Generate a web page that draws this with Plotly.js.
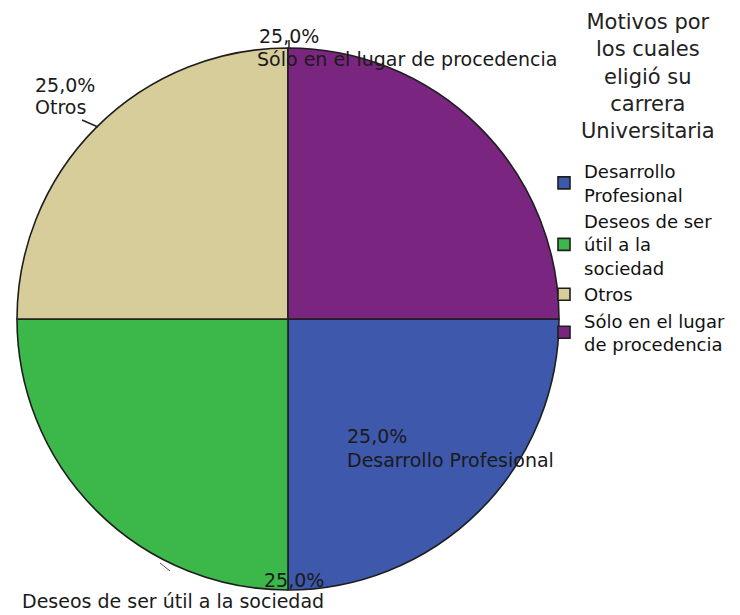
<!DOCTYPE html>
<html>
<head>
<meta charset="utf-8">
<script src="https://cdn.plot.ly/plotly-3.0.1.min.js"></script>
<style>html,body{margin:0;padding:0;background:#fff;}#chart{width:740px;height:615px;}</style>
</head>
<body>
<div id="chart"></div>
<script>
// ---- data ----
const categories = ["Desarrollo Profesional", "Deseos de ser útil a la sociedad", "Otros", "Sólo en el lugar de procedencia"];
const legendLabels = ["Desarrollo<br>Profesional", "Deseos de ser<br>útil a la<br>sociedad", "Otros", "Sólo en el lugar<br>de procedencia"];
const values = [25, 25, 25, 25];
const colors = ["#3E58AC", "#3CB84A", "#D6CD9A", "#7A2580"];
const legendTitle = "Motivos por<br>los cuales<br>eligió su<br>carrera<br>Universitaria";

// ---- layout helpers (pixel -> paper) ----
const W = 740, H = 615;
const px = x => x / W;
const py = y => 1 - y / H;

const total = values.reduce((a, b) => a + b, 0);
const pctText = values.map(v => (v / total * 100).toFixed(1).replace(".", ",") + "%");

// label placement (pixels): [pctX, pctY, nameX, nameY, anchor]
const labelPos = [
  [345, 436, 345, 460, "left"],
  [326, 580, 326, 601, "right"],
  [33, 85, 33, 107, "left"],
  [257, 36, 255, 59, "left"]
];

const font = "DejaVu Sans, Verdana, sans-serif";
const annotations = [];
values.forEach((v, i) => {
  const p = labelPos[i];
  annotations.push({xref: "paper", yref: "paper", x: px(p[0]), y: py(p[1]), xanchor: p[4], yanchor: "middle",
    text: pctText[i], showarrow: false, font: {family: font, size: 19, color: "#1a1a1a"}});
  annotations.push({xref: "paper", yref: "paper", x: px(p[2]), y: py(p[3]), xanchor: p[4], yanchor: "middle",
    text: categories[i], showarrow: false, font: {family: font, size: 19, color: "#1a1a1a"}});
});
// legend title (centred block)
annotations.push({xref: "paper", yref: "paper", x: px(648), y: py(8), xanchor: "center", yanchor: "top",
  align: "center", text: legendTitle, showarrow: false, font: {family: font, size: 21, color: "#222"}});

const shapes = [
  {type: "line", xref: "paper", yref: "paper", x0: px(82), y0: py(120), x1: px(98), y1: py(127), line: {color: "#222", width: 1.5}},
  {type: "line", xref: "paper", yref: "paper", x0: px(289), y0: py(40), x1: px(289), y1: py(49), line: {color: "#222", width: 1.5}},
  {type: "line", xref: "paper", yref: "paper", x0: px(160), y0: py(563), x1: px(170), y1: py(571), line: {color: "#555", width: 1}}
];

const trace = {
  type: "pie",
  labels: legendLabels,
  values: values,
  sort: false,
  direction: "clockwise",
  rotation: 90,
  textinfo: "none",
  hoverinfo: "label+percent",
  marker: {colors: colors, line: {color: "#1e1e1e", width: 1.6}},
  domain: {x: [px(17), px(559)], y: [py(590), py(48)]}
};

const layout = {
  width: W, height: H,
  margin: {l: 0, r: 0, t: 0, b: 0},
  paper_bgcolor: "#fff",
  showlegend: true,
  legend: {
    x: px(544), xanchor: "left", y: py(153), yanchor: "top",
    font: {family: font, size: 18, color: "#111"},
    valign: "middle", tracegroupgap: 0, bgcolor: "rgba(0,0,0,0)"
  },
  annotations: annotations,
  shapes: shapes
};

Plotly.newPlot("chart", [trace], layout, {displayModeBar: false, staticPlot: true});
</script>
</body>
</html>
